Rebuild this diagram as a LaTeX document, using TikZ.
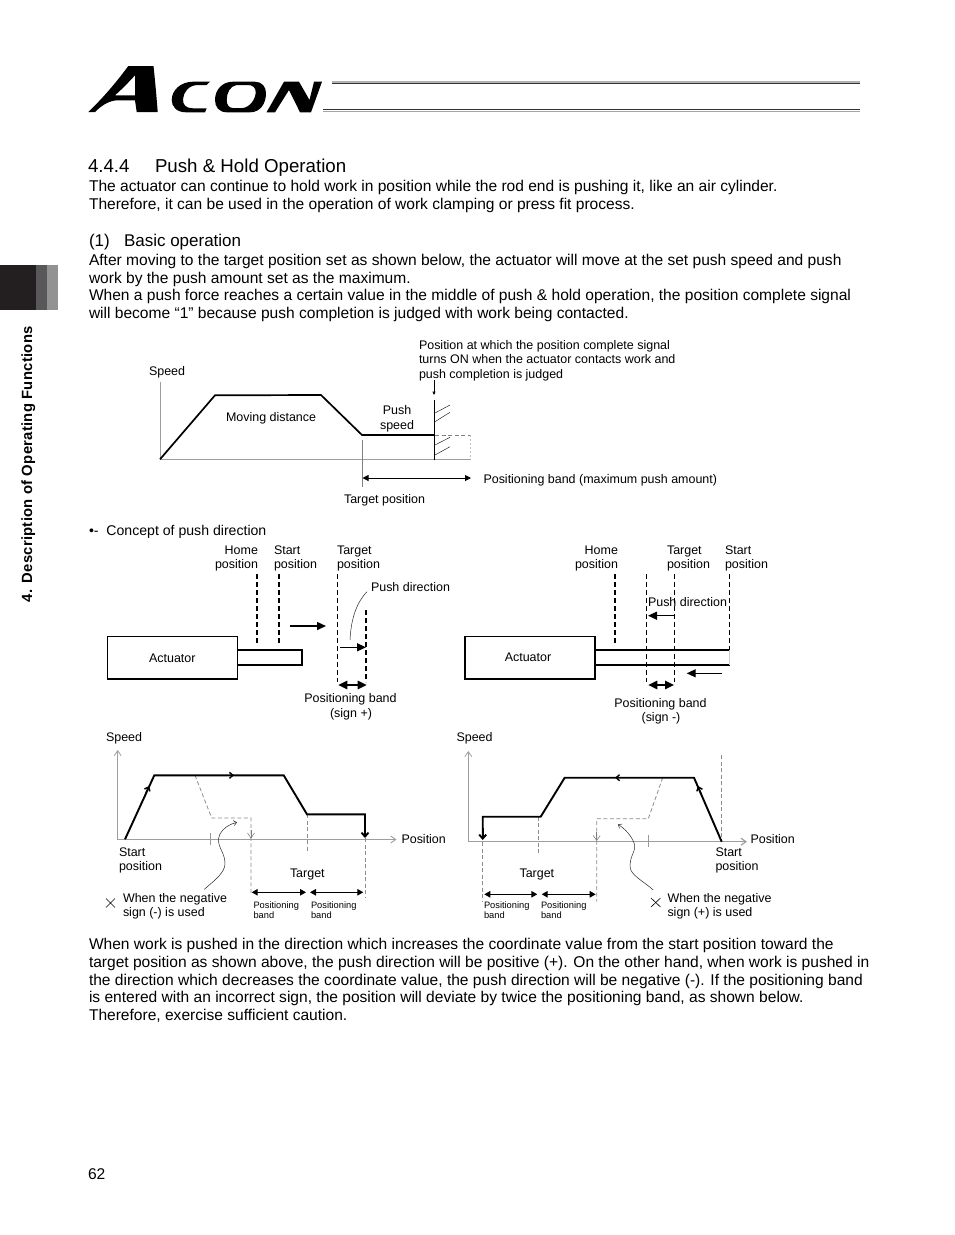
\documentclass[tikz,border=0pt]{standalone}
\usepackage{fontspec}
\setmainfont{Liberation Sans}
\usetikzlibrary{arrows.meta}
\definecolor{axisgray}{gray}{0.62}
\definecolor{dashgray}{gray}{0.55}
\tikzset{
  txt/.style={inner sep=0pt,outer sep=0pt,anchor=base west},
  body/.style={txt,font=\fontsize{15.56}{18}\selectfont},
  lab/.style={txt,font=\fontsize{12.47}{14}\selectfont},
  labc/.style={lab,anchor=base},
  labe/.style={lab,anchor=base east},
  tiny/.style={txt,font=\fontsize{9.3}{10}\selectfont},
  axis/.style={line width=1pt,draw=axisgray},
  solidtip/.style={-{Triangle[length=9pt,width=8pt]},line width=1.5pt},
  smalltip/.style={{Triangle[length=6pt,width=6.5pt]}-{Triangle[length=6pt,width=6.5pt]},line width=1.1pt},
  bigdouble/.style={{Triangle[length=9pt,width=8.5pt]}-{Triangle[length=9pt,width=8.5pt]},line width=1.4pt},
  dashA/.style={line width=1.8pt,dash pattern=on 5pt off 3pt},
  dashB/.style={line width=1pt,dash pattern=on 5pt off 3pt},
  gdash/.style={line width=0.8pt,draw=dashgray,dash pattern=on 4pt off 2.5pt},
  opentip/.style={-{Straight Barb[length=5pt,width=7pt]}},
  note/.style={line width=0.5pt,draw=black!85},
  actbox/.style={draw,line width=1.3pt,rectangle,inner sep=0pt,font=\fontsize{12.47}{14}\selectfont},
}
\begin{document}
\begin{tikzpicture}[x=1pt,y=-1pt]
\useasboundingbox (0,0) rectangle (954,1235);
% logo
\fill[black,even odd rule] (88.3,112) .. controls (105,96) and (118,80) .. (128.3,66) -- (153.5,66) .. controls (155,80) and (156.5,96) .. (157.7,112) -- (136.7,112) -- (135,100.3) -- (116.7,100.3) .. controls (108,101) and (101,106) .. (95,112) -- cycle
  (115,95.3) -- (135,95.3) -- (135,75.3) .. controls (128,83) and (121,90) .. (115,95.3) -- cycle;
\fill[black] (210,81.7) -- (206.7,85) -- (198,85) .. controls (189,85) and (183.5,92) .. (183,99) .. controls (182.7,105) and (186,108.3) .. (193,108.3) -- (206.7,108.3) -- (205,112.3) -- (186,112.3) .. controls (176,112.3) and (171.7,106) .. (171.7,100) .. controls (171.7,90) and (181,81.7) .. (193,81.7) -- cycle;
\fill[black,even odd rule] (233,81.7) -- (255,81.7) .. controls (262,81.7) and (266,87) .. (266,93) .. controls (266,104) and (260,112.3) .. (250,112.3) -- (227,112.3) .. controls (219,112.3) and (215,107) .. (215,100) .. controls (215,90) and (222,81.7) .. (233,81.7) -- cycle
 (236.7,85) .. controls (230,86) and (226.7,93) .. (226.7,100) .. controls (226.7,105) and (229,108) .. (233,108) -- (243,108) .. controls (250,107) and (255.7,99) .. (255.7,92) .. controls (255.7,88) and (253,85) .. (248,85) -- cycle;
\fill[black] (266.5,112.3) -- (284,81.7) -- (299,81.7) -- (309.5,100) -- (314,81.7) -- (322,81.7) -- (311,112.3) -- (300,112.3) -- (289,90) -- (275,112.3) -- cycle;
% header lines
\fill[gray!60] (332,81) rectangle (860,82.5);
\fill[black!80] (332,82.5) rectangle (860,84);
\fill[black!80] (323,109) rectangle (860,110);
\fill[black!35] (323,111) rectangle (860,112);
% side tab
\fill[fill={rgb,255:red,35;green,31;blue,32}] (0,265) rectangle (36,310);
\fill[fill={rgb,255:red,88;green,88;blue,90}] (36,265) rectangle (47,310);
\fill[fill={rgb,255:red,146;green,146;blue,146}] (47,265) rectangle (58,310);
\node[txt,rotate=90,font=\fontsize{14.8}{16}\bfseries\selectfont\addfontfeature{LetterSpace=2}] (side) at (32,602) {4. Description of Operating Functions};
% headings and body text
\node[txt,font=\fontsize{18.7}{21}\selectfont] (hnum) at (88,172) {4.4.4};
\node[txt,font=\fontsize{18.7}{21}\selectfont] (head) at (155,172) {Push \& Hold Operation};
\node[body] (b1) at (89,191) {The actuator can continue to hold work in position while the rod end is pushing it, like an air cylinder.};
\node[body] (b2) at (89,209) {Therefore, it can be used in the operation of work clamping or press fit process.};
\node[txt,font=\fontsize{17}{19}\selectfont] (s1n) at (89,246) {(1)};
\node[txt,font=\fontsize{17}{19}\selectfont] (s1) at (124,246) {Basic operation};
\node[body] (b3) at (89,265) {After moving to the target position set as shown below, the actuator will move at the set push speed and push};
\node[body] (b4) at (89,283) {work by the push amount set as the maximum.};
\node[body] (b5) at (89,300) {When a push force reaches a certain value in the middle of push \& hold operation, the position complete signal};
\node[body] (b6) at (89,318) {will become “1” because push completion is judged with work being contacted.};
% top chart
\node[lab] (p1) at (419,349) {Position at which the position complete signal};
\node[lab] (p2) at (419,363) {turns ON when the actuator contacts work and};
\node[lab] (p3) at (419,378) {push completion is judged};
\node[lab] (sp0) at (149,375) {Speed};
\node[lab] (md) at (226,421) {Moving distance};
\node[labc] (ps1) at (397,414) {Push};
\node[labc] (ps2) at (397,429) {speed};
\node[lab] (pb0) at (483.5,483) {Positioning band (maximum push amount)};
\node[lab] (tp0) at (344,503) {Target position};
\coordinate (o0) at (160,459.3);
\coordinate (ytop0) at (160,381.5);
\coordinate (xend0) at (470.7,459.3);
\draw[axis] (ytop0) -- (o0) -- (xend0);
\draw[line width=1.7pt,line join=miter] (o0) -- (215,395.3) -- (321,395) -- (362,435) -- (434.7,435);
\draw[line width=1pt] (434.7,400) -- (434.7,459.5);
\draw[line width=0.4pt] (435,413) -- (450,405) (435,421.7) -- (450,412.3) (435,445) -- (450,437.3) (435,455) -- (450,446.7);
\draw[line width=0.5pt,draw=gray,dash pattern=on 4pt off 2.5pt] (435,435) -- (470.7,435);
\draw[line width=0.5pt,draw=gray!50,dash pattern=on 2pt off 2pt] (470.7,435) -- (470.7,459);
\draw[line width=0.8pt,draw=gray] (362,440) -- (362,486.7);
\draw[{Triangle[length=6pt,width=6pt]}-{Triangle[length=6pt,width=6pt]},line width=1pt] (362.5,478) -- (471,478);
\draw[line width=0.5pt,-{Triangle[length=3.5pt,width=3pt]}] (434,380) -- (434,395);
% concept
\node[txt,font=\fontsize{14.1}{16}\selectfont] (cc) at (89,535) {•-\ \ Concept of push direction};
\node[labe] (h1) at (258,554) {Home};
\node[labe] (h2) at (258,568) {position};
\node[lab] (st1) at (274,554) {Start};
\node[lab] (st2) at (274,568) {position};
\node[lab] (ta1) at (337,554) {Target};
\node[lab] (ta2) at (337,568) {position};
\node[lab] (pd1) at (371,591) {Push direction};
\node[actbox,minimum width=130pt,minimum height=42.3pt] (act1) at (172.3,657.8) {Actuator};
\draw[line width=1.4pt] (act1.east |- 0,650) -- (302,650) -- (302,665) -- (act1.east |- 0,665);
\draw[dashA] (257.3,574) -- (257.3,644);
\draw[dashA] (279,574) -- (279,644);
\draw[solidtip] (290,626) -- (326,626);
\draw[dashB] (337.7,574) -- (337.7,682);
\draw[dashA,line width=1.3pt] (366,610) -- (366,682);
\draw[solidtip,line width=1.3pt] (340,647.3) -- (366,647.3);
\draw[note] (350,640) .. controls (351,620) and (356,603) .. (367,591.7);
\draw[bigdouble] (338.3,685) -- (366.7,685);
\node[labc] (pb1) at (350.5,702) {Positioning band};
\node[labc] (pb1b) at (351,717) {(sign +)};
% right concept
\node[labe] (h3) at (618,554) {Home};
\node[labe] (h4) at (618,568) {position};
\node[lab] (ta3) at (667,554) {Target};
\node[lab] (ta4) at (667,568) {position};
\node[lab] (st3) at (725,554) {Start};
\node[lab] (st4) at (725,568) {position};
\node[lab] (pd2) at (648,606) {Push direction};
\node[actbox,minimum width=130pt,minimum height=42.3pt,text depth=0pt] (act2) at (530,657.8) {};
\node[lab,anchor=center] (act2t) at (528,657) {Actuator};
\draw[line width=1.1pt] (act2.east |- 0,650) -- (729.5,650);
\draw[line width=1.9pt] (act2.east |- 0,665) -- (729.5,665);
\draw[line width=1pt,draw=gray!40] (729.7,650) -- (729.7,665);
\draw[dashA] (615,574) -- (615,644);
\draw[dashB] (646,574) -- (646,682);
\draw[dashA,line width=1.3pt] (674.7,574) -- (674.7,682);
\draw[dashB] (729,574) -- (729,650);
\draw[solidtip,line width=1.3pt] (675,615.7) -- (648,615.7);
\draw[solidtip,line width=1.3pt] (721.7,673.3) -- (686.7,673.3);
\draw[bigdouble] (648.3,685) -- (674,685);
\node[labc] (pb2) at (660.5,707) {Positioning band};
\node[labc] (pb2b) at (661,721) {(sign -)};
% lower left
\node[lab] (sp1) at (106,741) {Speed};
\node[lab] (po1) at (401.5,843) {Position};
\node[lab] (sa1) at (119,856) {Start};
\node[lab] (sa2) at (119,870) {position};
\node[lab] (tg1) at (290,877) {Target};
\node[lab] (wn1) at (123,902) {When the negative};
\node[lab] (wn2) at (123,916) {sign (-) is used};
\node[tiny] (pg1) at (253.5,908) {Positioning};
\node[tiny] (pg2) at (253.5,918) {band};
\node[tiny] (pg3) at (311,908) {Positioning};
\node[tiny] (pg4) at (311,918) {band};
\coordinate (o1) at (117.7,839.5);
\draw[axis,opentip,line width=0.8pt] (o1) -- (117.7,750);
\draw[axis,opentip,line width=0.9pt] (o1) -- (396.5,839.5);
\draw[line width=0.5pt,draw=gray!80] (210.3,833) -- (210.3,845);
\draw[gdash] (195,775.3) -- (211.7,818) -- (251,818) -- (251,895);
\draw[gray,line width=0.6pt,opentip] (251,830) -- (251,838.5);
\draw[gdash] (307,814) -- (307,853);
\draw[gdash] (365,838) -- (365,898);
\draw[line width=1.9pt,line join=miter] (125,839.3) -- (154.3,775.3) -- (283.7,775.3) -- (307,814.3) -- (365,814.3) -- (365,833);
\draw[line width=1.9pt,-{Straight Barb[length=4pt,width=7pt]}] (365,825) -- (365,838);
\draw[line width=1.4pt,-{Straight Barb[length=3.5pt,width=6pt]}] (146,793) -- (149,786);
\draw[line width=1.4pt,-{Straight Barb[length=3.5pt,width=6pt]}] (226,775.3) -- (234,775.3);
\draw[smalltip] (251.7,892.3) -- (306,892.3);
\draw[smalltip] (310,892.3) -- (363.3,892.3);
\draw[note,-{Straight Barb[length=3pt,width=5pt]}] (204.3,889.3) .. controls (215,880) and (226,872) .. (225,862) .. controls (224,850) and (215,845) .. (220,834) .. controls (223,828) and (230,824) .. (237,822.3);
\draw[line width=0.6pt] (106,898.5) -- (115,907.5) (115,898.5) -- (106,907.5);
% lower right
\node[lab] (sp2) at (456.5,741) {Speed};
\node[lab] (po2) at (750.5,843) {Position};
\node[lab] (sa3) at (715.5,856) {Start};
\node[lab] (sa4) at (715.5,870) {position};
\node[lab] (tg2) at (519.5,877) {Target};
\node[lab] (wn3) at (667.5,902) {When the negative};
\node[lab] (wn4) at (667.5,916) {sign (+) is used};
\node[tiny] (pg5) at (484,908) {Positioning};
\node[tiny] (pg6) at (484,918) {band};
\node[tiny] (pg7) at (541,908) {Positioning};
\node[tiny] (pg8) at (541,918) {band};
\coordinate (o2) at (468.3,841.7);
\draw[axis,opentip,line width=0.8pt] (o2) -- (468.3,751);
\draw[axis,opentip,line width=1.2pt] (o2) -- (747,841.7);
\draw[line width=0.5pt,draw=gray!80] (648.3,835) -- (648.3,847);
\draw[gdash] (721.7,755) -- (721.7,841);
\draw[gdash] (662.7,777.7) -- (648.3,818.7) -- (596.7,818.7) -- (596.7,901.7);
\draw[gray,line width=0.6pt,opentip] (596.7,832) -- (596.7,841);
\draw[gdash] (482.7,842) -- (482.7,901.7);
\draw[gdash] (538.7,816.7) -- (538.7,855);
\draw[line width=1.9pt,line join=miter] (482.7,835) -- (482.7,816.7) -- (540.7,816.7) -- (564.7,777.7) -- (694,777.7) -- (721.7,841.7);
\draw[line width=1.9pt,-{Straight Barb[length=4pt,width=7pt]}] (482.7,828) -- (482.7,840);
\draw[line width=1.4pt,-{Straight Barb[length=3.5pt,width=6pt]}] (624,777.7) -- (615,777.7);
\draw[line width=1.4pt,-{Straight Barb[length=3.5pt,width=6pt]}] (701,794) -- (698,786);
\draw[smalltip] (484.3,894.3) -- (537.3,894.3);
\draw[smalltip] (541.7,894.3) -- (595.7,894.3);
\draw[note,-{Straight Barb[length=3pt,width=5pt]}] (653.3,890) .. controls (642,880) and (630,875) .. (630,866) .. controls (630,855) and (637,850) .. (634,843) .. controls (631,835) and (625,829) .. (618,824.3);
\draw[line width=0.6pt] (651,898) -- (660.5,907) (660.5,898) -- (651,907);
% bottom text
\node[body] (c1) at (89,949) {When work is pushed in the direction which increases the coordinate value from the start position toward the};
\node[body] (c2) at (89,967) {target position as shown above, the push direction will be positive (+). On the other hand, when work is pushed in};
\node[body] (c3) at (89,985) {the direction which decreases the coordinate value, the push direction will be negative (-). If the positioning band};
\node[body] (c4) at (89,1002) {is entered with an incorrect sign, the position will deviate by twice the positioning band, as shown below.};
\node[body] (c5) at (89,1020) {Therefore, exercise sufficient caution.};
\node[body] (pn) at (88,1179) {62};
\end{tikzpicture}
\end{document}
